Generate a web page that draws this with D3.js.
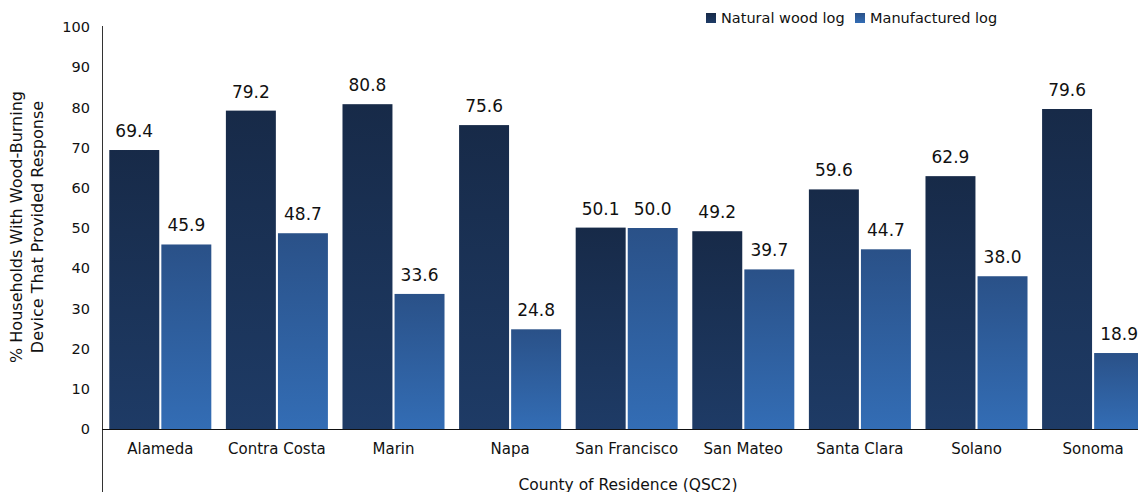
<!DOCTYPE html>
<html>
<head>
<meta charset="utf-8">
<script src="https://cdn.jsdelivr.net/npm/d3@7"></script>
<style>
  body { margin: 0; background: #fff; }
  svg { display: block; font-family: "DejaVu Sans", sans-serif; }
</style>
</head>
<body>
<div id="chart"></div>
<script>
var counties = ["Alameda", "Contra Costa", "Marin", "Napa", "San Francisco", "San Mateo", "Santa Clara", "Solano", "Sonoma"];
var seriesNames = ["Natural wood log", "Manufactured log"];
var naturalLog = [69.4, 79.2, 80.8, 75.6, 50.1, 49.2, 59.6, 62.9, 79.6];
var manufacturedLog = [45.9, 48.7, 33.6, 24.8, 50.0, 39.7, 44.7, 38.0, 18.9];
var yTicks = [0, 10, 20, 30, 40, 50, 60, 70, 80, 90, 100];

var width = 1138, height = 492;
var plotLeft = 102, plotTop = 27, plotBottom = 429;

var svg = d3.select("#chart").append("svg")
    .attr("width", width)
    .attr("height", height);

var defs = svg.append("defs");
var gradients = [
  {id: "grad0", top: "#172a48", bottom: "#1e3b66"},
  {id: "grad1", top: "#2a5188", bottom: "#336db5"}
];
gradients.forEach(function(g) {
  var lg = defs.append("linearGradient").attr("id", g.id)
      .attr("x1", "0%").attr("y1", "0%").attr("x2", "0%").attr("y2", "100%");
  lg.append("stop").attr("offset", "0%").attr("stop-color", g.top);
  lg.append("stop").attr("offset", "100%").attr("stop-color", g.bottom);
});

var x = d3.scaleBand()
    .domain(counties)
    .range([plotLeft, plotLeft + 9 * 116.6])
    .paddingInner(0.125)
    .paddingOuter(0.0625);

var xSub = d3.scaleBand()
    .domain([0, 1])
    .range([0, x.bandwidth()])
    .paddingInner(0.04);

var y = d3.scaleLinear()
    .domain([0, 100])
    .range([plotBottom, plotTop]);

var rows = counties.map(function(c, i) {
  return {county: c, values: [naturalLog[i], manufacturedLog[i]]};
});

// bars
var groups = svg.append("g").selectAll("g")
    .data(rows)
    .enter().append("g")
    .attr("transform", function(d) { return "translate(" + x(d.county) + ",0)"; });

groups.selectAll("rect")
    .data(function(d) { return d.values; })
    .enter().append("rect")
    .attr("x", function(d, i) { return xSub(i); })
    .attr("y", function(d) { return y(d); })
    .attr("width", xSub.bandwidth())
    .attr("height", function(d) { return y(0) - y(d); })
    .style("fill", function(d, i) { return "url(#grad" + i + ")"; });

// value labels
groups.selectAll("text")
    .data(function(d) { return d.values; })
    .enter().append("text")
    .attr("x", function(d, i) { return xSub(i) + xSub.bandwidth() / 2; })
    .attr("y", function(d) { return y(d) - 13; })
    .attr("text-anchor", "middle")
    .style("font-size", "17px")
    .style("fill", "#111")
    .text(function(d) { return d.toFixed(1); });

// y axis
var yAxis = d3.axisLeft(y).tickValues(yTicks).tickSize(0).tickPadding(12);
var yg = svg.append("g").attr("transform", "translate(" + plotLeft + ",0)").call(yAxis);
yg.select(".domain").remove();
yg.selectAll("text").style("font-size", "14.5px").style("fill", "#111").style("font-family", "DejaVu Sans, sans-serif");

svg.append("line")
    .attr("x1", plotLeft + 0.5).attr("x2", plotLeft + 0.5)
    .attr("y1", plotTop - 1).attr("y2", height)
    .style("stroke", "#333").style("stroke-width", 1);

// x axis
var xAxis = d3.axisBottom(x).tickSize(0).tickPadding(14);
var xg = svg.append("g").attr("transform", "translate(0," + plotBottom + ")").call(xAxis);
xg.select(".domain").remove();
xg.selectAll("text").style("font-size", "15px").style("fill", "#111").style("font-family", "DejaVu Sans, sans-serif");

svg.append("line")
    .attr("x1", plotLeft).attr("x2", width)
    .attr("y1", plotBottom + 0.5).attr("y2", plotBottom + 0.5)
    .style("stroke", "#111").style("stroke-width", 1);

// axis titles
svg.append("text")
    .attr("x", 628).attr("y", 490)
    .attr("text-anchor", "middle")
    .style("font-size", "15.5px").style("fill", "#111")
    .text("County of Residence (QSC2)");

var yTitle = svg.append("text")
    .attr("transform", "translate(22,227) rotate(-90)")
    .attr("text-anchor", "middle")
    .style("font-size", "16px").style("fill", "#111");
yTitle.append("tspan").attr("x", 0).attr("y", 0).text("% Households With Wood-Burning");
yTitle.append("tspan").attr("x", 0).attr("y", 21).text("Device That Provided Response");

// legend
var legendX = [706, 855];
var legend = svg.append("g").selectAll("g")
    .data(seriesNames)
    .enter().append("g")
    .attr("transform", function(d, i) { return "translate(" + legendX[i] + ",13)"; });

legend.append("rect")
    .attr("width", 10).attr("height", 10)
    .style("fill", function(d, i) { return "url(#grad" + i + ")"; });

legend.append("text")
    .attr("x", 15).attr("y", 10)
    .style("font-size", "14.5px").style("fill", "#111")
    .text(function(d) { return d; });
</script>
</body>
</html>
